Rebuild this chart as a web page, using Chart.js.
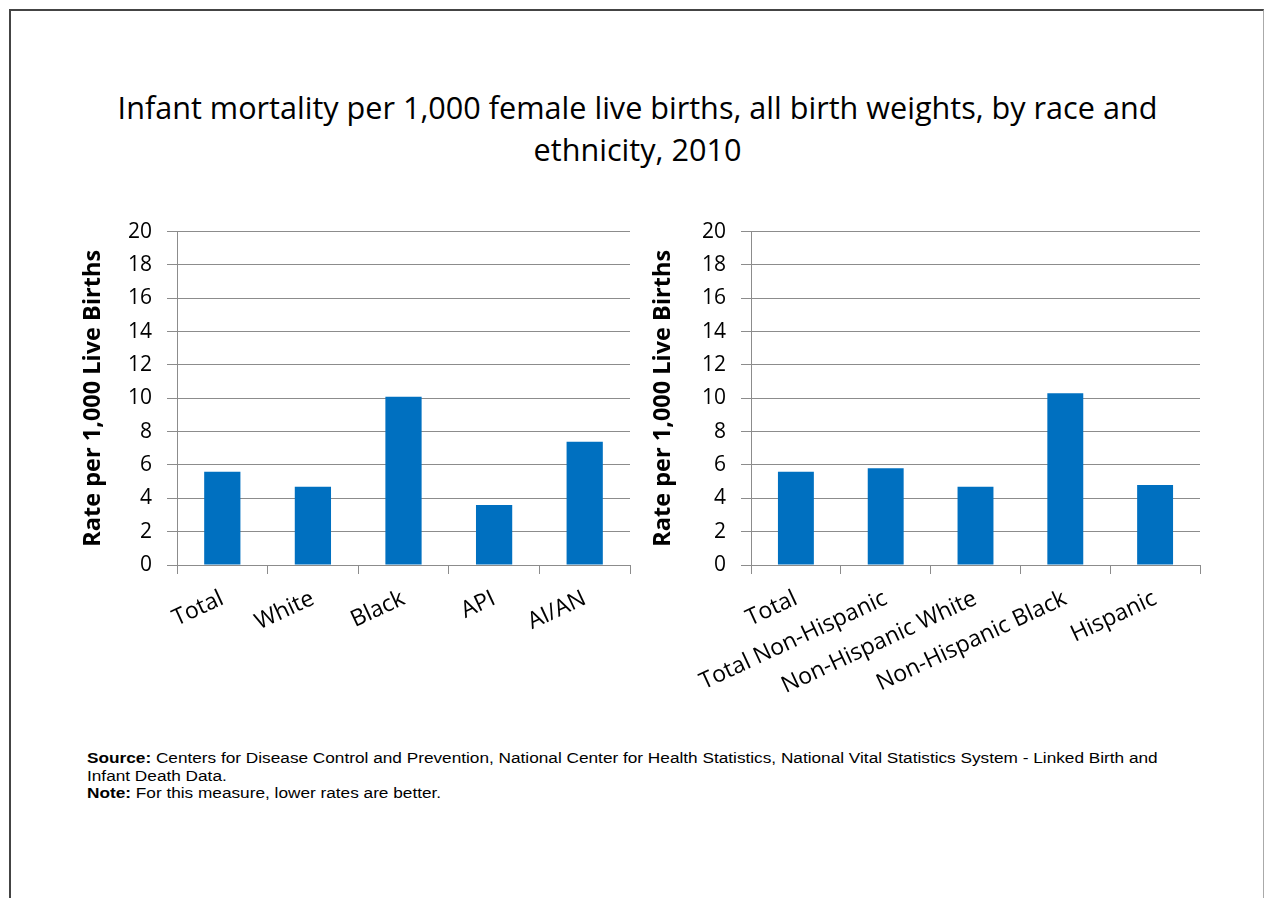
<!DOCTYPE html>
<html>
<head>
<meta charset="utf-8">
<script src="https://cdn.jsdelivr.net/npm/chart.js@4/dist/chart.umd.min.js"></script>
<style>
  html, body { margin: 0; padding: 0; background: #fff; }
  body { width: 1264px; height: 898px; position: relative; overflow: hidden; }
  #frame { position: absolute; left: 9px; top: 9px; width: 1252px; height: 900px;
           border-left: 2px solid #444; border-top: 2px solid #444; border-right: 1px solid #aaa; }
  #title { position: absolute; left: 0; top: 86px; width: 1275px; text-align: center;
           font-family: "Open Sans", sans-serif; font-size: 30.6px; line-height: 42px; color: #000; }
  .box { position: absolute; top: 204px; width: 590px; height: 510px; }
  #notes { position: absolute; left: 87px; top: 750px; width: 890px;
           transform: scaleX(1.23); transform-origin: left top;
           font-family: "Liberation Sans", Arial, sans-serif; font-size: 14px; line-height: 17.7px; color: #000; }
</style>
</head>
<body>
<div id="frame"></div>
<div id="title">Infant mortality per 1,000 female live births, all birth weights, by race and<br>ethnicity, 2010</div>
<div class="box" style="left:60px"><canvas id="race-chart" width="590" height="510"></canvas></div>
<div class="box" style="left:630px"><canvas id="eth-chart" width="590" height="510"></canvas></div>
<div id="notes"><b>Source:</b> Centers for Disease Control and Prevention, National Center for Health Statistics, National Vital Statistics System - Linked Birth and Infant Death Data.<br><b>Note:</b> For this measure, lower rates are better.</div>

<script>
var raceLabels = ['Total', 'White', 'Black', 'API', 'AI/AN'];
var raceRates = [5.6, 4.7, 10.1, 3.6, 7.4];

var ethLabels = ['Total', 'Total Non-Hispanic', 'Non-Hispanic White', 'Non-Hispanic Black', 'Hispanic'];
var ethRates = [5.6, 5.8, 4.7, 10.3, 4.8];

var yTicks = [0, 2, 4, 6, 8, 10, 12, 14, 16, 18, 20];
var yTitle = 'Rate per 1,000 Live Births';

var BAR = '#0070C0';
var GRID = '#8c8c8c';
var FONT = '"Open Sans", sans-serif';

function makeChart(id, labels, values, yWidth) {
    var ctx = document.getElementById(id).getContext('2d');
    return new Chart(ctx, {
        type: 'bar',
        data: {
            labels: labels,
            datasets: [{
                data: values,
                backgroundColor: BAR,
                borderWidth: 0,
                categoryPercentage: 1,
                barPercentage: 0.4
            }]
        },
        options: {
            responsive: false,
            animation: false,
            layout: { padding: { top: 16, right: 20, bottom: 0, left: 0 } },
            plugins: { legend: { display: false }, tooltip: { enabled: false } },
            scales: {
                x: {
                    grid: { display: true, drawOnChartArea: false, drawTicks: true, tickLength: 9, color: GRID, offset: true },
                    border: { color: GRID },
                    ticks: {
                        color: '#000', autoSkip: false, minRotation: 25, maxRotation: 25, padding: 11,
                        font: { family: FONT, size: 23 }
                    },
                    afterFit: function (s) { s.height = 149; }
                },
                y: {
                    min: 0, max: 20,
                    afterBuildTicks: function (s) { s.ticks = yTicks.map(function (v) { return { value: v }; }); },
                    grid: { color: GRID, tickLength: 10 },
                    border: { color: GRID },
                    ticks: { color: '#000', padding: 15, font: { family: FONT, size: 21 } },
                    title: {
                        display: true, text: yTitle, color: '#000',
                        font: { family: FONT, size: 23.5, weight: 'bold' },
                        padding: { top: 19, bottom: 0 }
                    },
                    afterFit: function (s) { s.width = yWidth; }
                }
            }
        }
    });
}

makeChart('race-chart', raceLabels, raceRates, 117);
makeChart('eth-chart', ethLabels, ethRates, 121);
</script>
</body>
</html>
